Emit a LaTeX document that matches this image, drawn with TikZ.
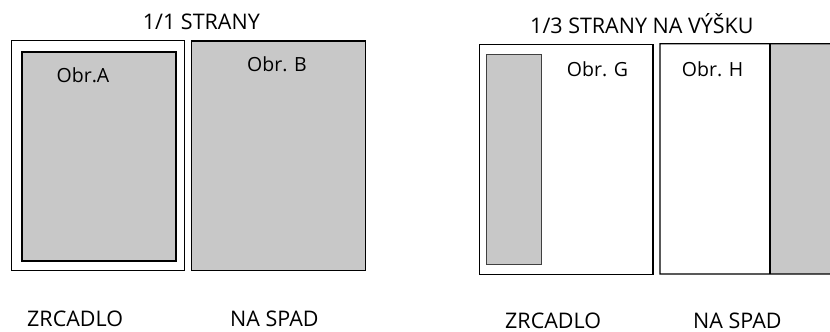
\documentclass[tikz,border=0pt]{standalone}
\usepackage{fontspec}
\setmainfont{Open Sans}
\definecolor{boxgray}{RGB}{200,200,200}
\begin{document}
\begin{tikzpicture}[x=1pt,y=-1pt,
  frame/.style={draw=black,line width=1pt,inner sep=0pt,anchor=north west},
  lbl/.style={font=\fontsize{21.5}{24}\selectfont,inner sep=0pt,anchor=base west},
  small/.style={font=\fontsize{19.5}{22}\selectfont,inner sep=0pt,anchor=base west}]
\useasboundingbox (0,0) rectangle (830,332);
% left group
\node[lbl] (t1) at (142.7,29) {1/1 STRANY};
\node[frame,minimum width=173.6pt,minimum height=229.4pt] (oa) at (10.7,40.3) {};
\node[frame,fill=boxgray,line width=2pt,minimum width=154pt,minimum height=209pt] (ia) at (20.7,50.7) {};
\node[frame,fill=boxgray,line width=1.4pt,minimum width=174.3pt,minimum height=229.4pt] (b) at (190.7,40.3) {};
\node[small] (la) at (56.5,82.7) {Obr.A};
\node[small] (lb) at (247,71.7) {Obr. B};
\node[lbl] (z1) at (27,326) {ZRCADLO};
\node[lbl] (n1) at (230,326) {NA SPAD};
% right group
\node[lbl] (t2) at (530,33.3) {1/3 STRANY NA VÝŠKU};
\node[frame,line width=1.3pt,minimum width=173.6pt,minimum height=230.3pt] (g) at (478.7,43.7) {};
\node[frame,draw=black!75,fill=boxgray,line width=1pt,minimum width=55.6pt,minimum height=210.3pt] (gs) at (485.7,54) {};
\node[small] (lg) at (566.7,76) {Obr. G};
\node[frame,fill=boxgray,line width=0pt,draw=none,minimum width=61pt,minimum height=230.3pt] (hs) at (770,43.7) {};
\draw[line width=1.3pt] (hs.north east) -- (660,43.7) coordinate (hnw) -- (660,274) -- (hs.south east);
\draw[line width=1.3pt] (hs.north west) -- (hs.south west);
\node[small] (lh) at (681.7,76) {Obr. H};
\node[lbl] (z2) at (505,328.5) {ZRCADLO};
\node[lbl] (n2) at (693,328.5) {NA SPAD};
\end{tikzpicture}
\end{document}
